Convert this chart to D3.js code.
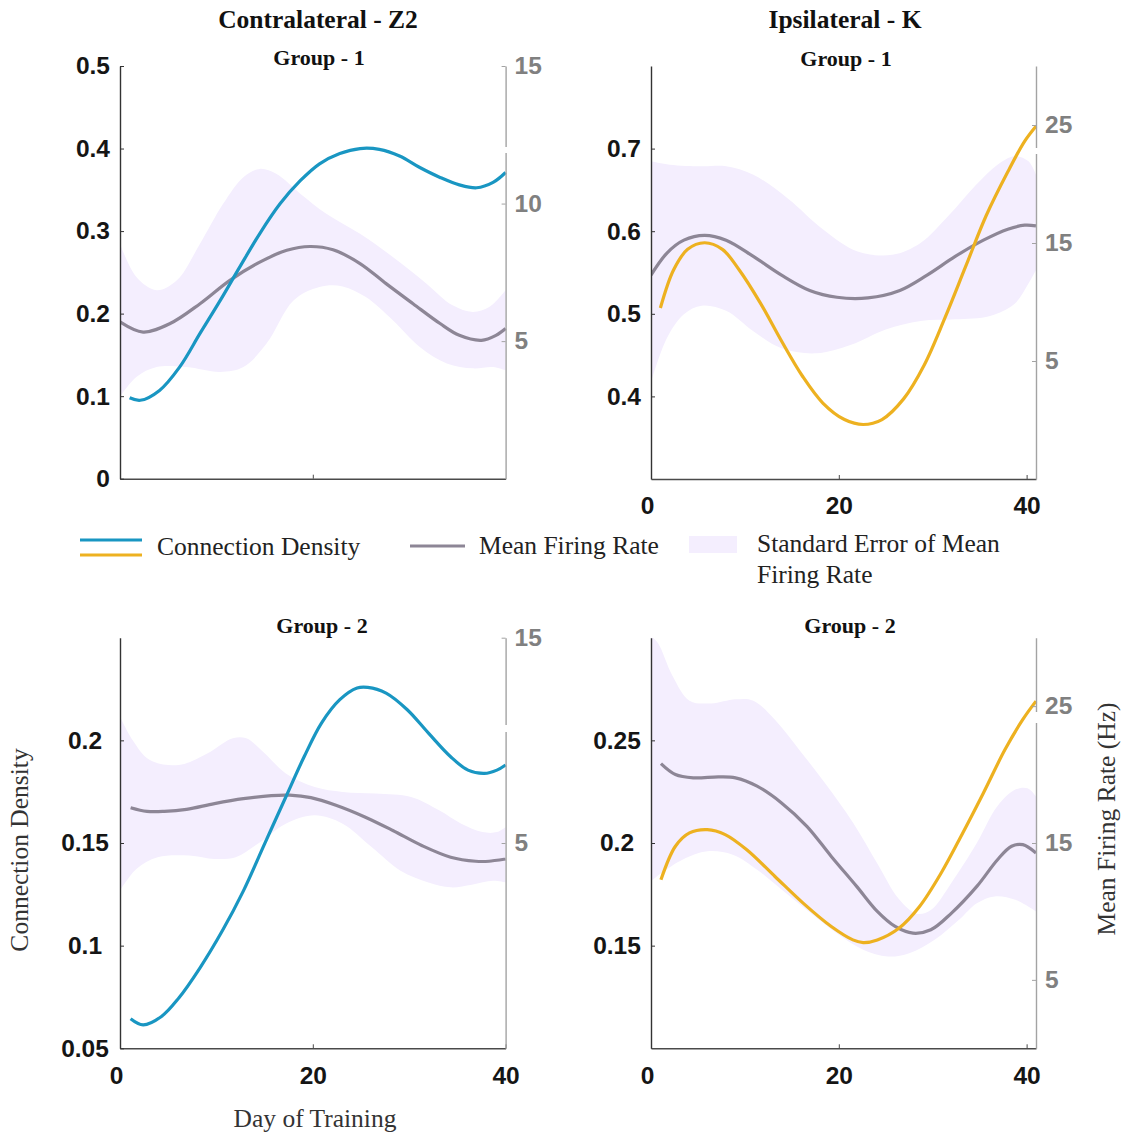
<!DOCTYPE html>
<html><head><meta charset="utf-8">
<script src="https://cdn.jsdelivr.net/npm/d3@7"></script>
<style>body{margin:0;background:#fff}</style>
</head><body>
<svg id="chart" width="1124" height="1135"></svg>
<script>
// ---------------- DATA ----------------
// Top-left: Contralateral - Z2, Group 1
const tlDensityDays = [1, 2.1, 4.1, 6.2, 8.3, 10.4, 12.4, 14.5, 16.6, 18.7, 20.7, 22.8, 24.9, 26.9, 29.0, 31.1, 33.2, 35.2, 37.0, 38.7, 40];
const tlDensity     = [0.098, 0.095, 0.107, 0.1355, 0.176, 0.216, 0.256, 0.297, 0.333, 0.361, 0.3815, 0.394, 0.400, 0.399, 0.391, 0.377, 0.365, 0.356, 0.3525, 0.359, 0.371];
const tlRateDays = [0, 2.4, 5.2, 8.3, 11.4, 14.5, 17.3, 19.7, 22.1, 24.9, 27.6, 30.4, 33.2, 35.2, 37.5, 39.0, 40];
const tlRate     = [5.70, 5.33, 5.64, 6.36, 7.21, 7.87, 8.30, 8.44, 8.32, 7.82, 7.09, 6.36, 5.64, 5.21, 5.03, 5.21, 5.46];
const tlSemUpperDays = [0, 1.7, 3.8, 5.9, 8.3, 10.7, 12.8, 14.5, 16.2, 18.7, 21.4, 24.9, 28.3, 31.8, 34.5, 36.6, 38.3, 40];
const tlSemUpper     = [8.54, 7.33, 6.85, 7.21, 8.54, 9.99, 10.96, 11.26, 11.08, 10.36, 9.63, 8.90, 8.06, 7.09, 6.30, 6.06, 6.24, 6.85];
const tlSemLowerDays = [0, 1.7, 3.8, 6.9, 10.4, 12.8, 15.2, 18.0, 20.7, 23.1, 25.5, 28.3, 31.1, 33.9, 36.6, 38.7, 40];
const tlSemLower     = [2.98, 3.70, 4.06, 4.06, 3.88, 4.06, 4.91, 6.48, 6.97, 6.99, 6.60, 5.76, 4.79, 4.19, 4.01, 4.06, 3.94];

// Top-right: Ipsilateral - K, Group 1
const trDensityDays = [1.0, 2.4, 3.9, 5.7, 7.6, 9.4, 11.7, 13.9, 16.1, 18.3, 20.6, 22.6, 24.6, 26.9, 29.1, 31.3, 33.5, 35.7, 38.0, 39.8, 41];
const trDensity     = [0.507, 0.553, 0.578, 0.586, 0.578, 0.553, 0.512, 0.467, 0.425, 0.392, 0.372, 0.366, 0.372, 0.397, 0.438, 0.495, 0.557, 0.619, 0.672, 0.709, 0.727];
const trRateDays = [0, 1.7, 3.5, 5.7, 8.0, 10.9, 13.9, 16.9, 19.8, 23.1, 26.5, 29.4, 32.4, 35.4, 38.0, 39.8, 41];
const trRate     = [12.28, 14.15, 15.24, 15.65, 15.24, 13.86, 12.28, 10.98, 10.40, 10.35, 10.98, 12.28, 13.86, 15.24, 16.17, 16.51, 16.45];
const trSemUpperDays = [0, 2.0, 5.4, 8.0, 10.9, 14.6, 18.3, 22.0, 25.7, 28.7, 31.7, 34.6, 36.9, 38.7, 40.2, 41];
const trSemUpper     = [21.93, 21.64, 21.5, 21.5, 20.78, 18.76, 16.17, 14.29, 14.0, 15.0, 17.32, 19.91, 21.64, 22.36, 21.93, 20.78];
const trSemLowerDays = [0, 1.7, 3.5, 5.4, 8.0, 10.9, 13.9, 17.6, 21.3, 25.0, 28.7, 32.4, 36.1, 38.7, 40.2, 41];
const trSemLower     = [3.2, 6.94, 8.96, 9.68, 9.25, 7.52, 6.08, 5.65, 6.37, 7.67, 8.39, 8.53, 8.82, 9.83, 11.56, 12.71];

// Bottom-left: Contralateral - Z2, Group 2
const blDensityDays = [1.1, 2.4, 4.3, 6.1, 8.3, 10.6, 12.8, 15.0, 17.2, 19.1, 20.9, 22.8, 24.6, 25.7, 27.6, 29.8, 32.0, 34.3, 36.1, 37.8, 39.1, 40];
const blDensity     = [0.0644, 0.0614, 0.0655, 0.0745, 0.0892, 0.1071, 0.1267, 0.1496, 0.1724, 0.192, 0.2084, 0.2198, 0.2255, 0.2258, 0.223, 0.2149, 0.2035, 0.192, 0.1855, 0.1839, 0.1855, 0.188];
const blRateDays = [1.1, 2.8, 4.6, 6.9, 9.8, 12.8, 15.7, 17.6, 19.8, 22.4, 25.4, 28.3, 31.3, 34.3, 36.9, 38.3, 40];
const blRate     = [6.72, 6.54, 6.54, 6.64, 6.92, 7.16, 7.31, 7.33, 7.21, 6.84, 6.27, 5.61, 4.88, 4.31, 4.11, 4.11, 4.22];
const blSemUpperDays = [0, 1.3, 3.1, 6.1, 9.1, 11.7, 13.1, 15.0, 17.2, 20.2, 23.1, 26.5, 30.2, 33.1, 35.4, 37.6, 39.1, 40];
const blSemUpper     = [11.16, 10.02, 9.04, 8.80, 9.37, 10.10, 10.10, 9.37, 8.39, 7.73, 7.49, 7.41, 7.24, 6.59, 5.94, 5.53, 5.53, 5.78];
const blSemLowerDays = [0, 1.7, 3.9, 7.2, 9.8, 12.0, 14.3, 17.2, 20.2, 23.1, 26.1, 29.1, 32.0, 34.3, 36.5, 38.7, 40];
const blSemLower     = [2.67, 3.73, 4.31, 4.39, 4.22, 4.31, 4.96, 5.94, 6.35, 5.94, 4.80, 3.65, 3.08, 2.84, 2.97, 3.16, 3.08];

// Bottom-right: Ipsilateral - K, Group 2
const brDensityDays = [1.06, 2.6, 4.1, 6.0, 7.9, 10.2, 13.2, 16.2, 19.2, 21.5, 22.6, 24.1, 26.4, 28.6, 30.9, 33.2, 35.4, 37.7, 39.6, 41];
const brDensity     = [0.1821, 0.1984, 0.2049, 0.2065, 0.2041, 0.1967, 0.1837, 0.1707, 0.1593, 0.1528, 0.1515, 0.1528, 0.1585, 0.1691, 0.1854, 0.2049, 0.2244, 0.2455, 0.2602, 0.2691];
const brRateDays = [1.06, 2.6, 4.5, 7.2, 9.0, 11.3, 13.9, 16.6, 19.2, 21.9, 24.1, 26.0, 27.9, 29.8, 32.0, 34.7, 36.9, 38.4, 39.6, 41];
const brRate     = [20.8, 20.0, 19.76, 19.83, 19.76, 19.15, 17.93, 16.22, 14.02, 11.83, 10.0, 8.90, 8.41, 8.66, 9.88, 11.83, 13.78, 14.76, 14.88, 14.27];
const brSemUpperDays = [0, 0.75, 2.3, 4.1, 6.4, 9.0, 10.9, 13.2, 15.8, 18.5, 21.5, 24.1, 26.4, 28.3, 29.8, 32.0, 34.7, 36.9, 38.8, 40.1, 41];
const brSemUpper     = [30.1, 29.6, 27.2, 25.4, 25.2, 25.5, 25.4, 24.0, 21.8, 19.4, 16.5, 13.5, 10.9, 9.83, 10.1, 12.1, 15.0, 17.7, 18.9, 19.0, 18.4];
const brSemLowerDays = [0, 1.1, 3.4, 6.0, 8.7, 11.3, 13.9, 17.0, 20.0, 22.6, 25.2, 27.5, 30.2, 32.8, 34.7, 36.6, 38.8, 41];
const brSemLower     = [12.2, 12.8, 13.8, 14.4, 14.15, 13.05, 11.6, 9.88, 8.29, 7.2, 6.71, 6.95, 7.93, 9.39, 10.6, 11.1, 10.85, 10.0];

// Axis ticks
const tlLeftTicks = [0, 0.1, 0.2, 0.3, 0.4, 0.5];
const tlRightTicks = [5, 10, 15];
const trLeftTicks = [0.4, 0.5, 0.6, 0.7];
const trRightTicks = [5, 15, 25];
const blLeftTicks = [0.05, 0.1, 0.15, 0.2];
const blRightTicks = [5, 15];
const brLeftTicks = [0.15, 0.2, 0.25];
const brRightTicks = [5, 15, 25];
const dayTicks = [0, 20, 40];

const columnTitles = ["Contralateral - Z2", "Ipsilateral - K"];
const groupTitles = ["Group - 1", "Group - 1", "Group - 2", "Group - 2"];
const legendLabels = ["Connection Density", "Mean Firing Rate", "Standard Error of Mean", "Firing Rate"];

// ---------------- STYLE ----------------
const BLUE = "#1996c2", GOLD = "#edb120", GRAY = "#8d8696", BAND = "#f4eefe";
const SERIF = "'Liberation Serif','Times New Roman',serif";
const SANS = "'Liberation Sans',Arial,sans-serif";
const TICK_FS = 24.5, SERIF_FS = 25.5;
const zip = (a, b) => a.map((d, i) => [d, b[i]]);

const svg = d3.select("#chart");

const panels = [
  { left: 120, right: 505.6, top: 66, bottom: 478.7, xDom: [0, 40], yLDom: [0, 0.5], yRDom: [0, 15],
    density: zip(tlDensityDays, tlDensity), rate: zip(tlRateDays, tlRate),
    up: zip(tlSemUpperDays, tlSemUpper), lo: zip(tlSemLowerDays, tlSemLower),
    color: BLUE, lt: tlLeftTicks, rt: tlRightTicks, xLabels: false, xt: [20], leftMid: false, leftPad: 10,
    title: groupTitles[0], titleX: 319, titleY: 65, gap: [147, 153] },
  { left: 651, right: 1036, top: 66, bottom: 479, xDom: [0, 41], yLDom: [0.3, 0.8], yRDom: [-5, 30],
    density: zip(trDensityDays, trDensity), rate: zip(trRateDays, trRate),
    up: zip(trSemUpperDays, trSemUpper), lo: zip(trSemLowerDays, trSemLower),
    color: GOLD, lt: trLeftTicks, rt: trRightTicks, xLabels: true, xt: dayTicks, leftMid: false, leftPad: 10,
    title: groupTitles[1], titleX: 846, titleY: 66, gap: [148, 154] },
  { left: 120, right: 505.6, top: 637.7, bottom: 1048.3, xDom: [0, 40], yLDom: [0.05, 0.25], yRDom: [-5, 15],
    density: zip(blDensityDays, blDensity), rate: zip(blRateDays, blRate),
    up: zip(blSemUpperDays, blSemUpper), lo: zip(blSemLowerDays, blSemLower),
    color: BLUE, lt: blLeftTicks, rt: blRightTicks, xLabels: true, xt: dayTicks, leftMid: true, leftPad: 35,
    title: groupTitles[2], titleX: 322, titleY: 633, gap: [725, 732] },
  { left: 651, right: 1036, top: 637.7, bottom: 1048.3, xDom: [0, 41], yLDom: [0.1, 0.3], yRDom: [0, 30],
    density: zip(brDensityDays, brDensity), rate: zip(brRateDays, brRate),
    up: zip(brSemUpperDays, brSemUpper), lo: zip(brSemLowerDays, brSemLower),
    color: GOLD, lt: brLeftTicks, rt: brRightTicks, xLabels: true, xt: dayTicks, leftMid: true, leftPad: 34,
    title: groupTitles[3], titleX: 850, titleY: 633, gap: [712, 723] }
];

panels.forEach((p, i) => {
  const x = d3.scaleLinear().domain(p.xDom).range([p.left, p.right]);
  const yL = d3.scaleLinear().domain(p.yLDom).range([p.bottom, p.top]);
  const yR = d3.scaleLinear().domain(p.yRDom).range([p.bottom, p.top]);
  const g = svg.append("g");
  const cid = "clip" + i;
  svg.append("clipPath").attr("id", cid).append("rect")
    .attr("x", p.left).attr("y", p.top).attr("width", p.right - p.left + 2).attr("height", p.bottom - p.top);
  const plot = g.append("g").attr("clip-path", `url(#${cid})`);

  const curve = d3.curveCatmullRom.alpha(0.5);
  const lineR = d3.line().x(d => x(d[0])).y(d => yR(d[1])).curve(curve);
  const lineL = d3.line().x(d => x(d[0])).y(d => yL(d[1])).curve(curve);

  const bandPath = lineR(p.up) + "L" + lineR(p.lo.slice().reverse()).slice(1) + "Z";
  plot.append("path").attr("d", bandPath).attr("fill", BAND).attr("stroke", "none");
  plot.append("path").attr("d", lineR(p.rate)).attr("fill", "none").attr("stroke", GRAY).attr("stroke-width", 3.2);
  plot.append("path").attr("d", lineL(p.density)).attr("fill", "none").attr("stroke", p.color).attr("stroke-width", 3.2);

  // axes
  const ax = d3.axisBottom(x).tickValues(p.xt).tickSize(-4).tickSizeOuter(0).tickPadding(18)
    .tickFormat(p.xLabels ? d3.format("d") : () => "");
  const gx = g.append("g").attr("transform", `translate(0,${p.bottom})`).call(ax);
  gx.select(".domain").attr("stroke", "#4a4a4a").attr("stroke-width", 1.4);
  gx.selectAll(".tick line").attr("stroke", "#4a4a4a");
  gx.selectAll("text").attr("font-family", SANS).attr("font-weight", "bold").attr("font-size", TICK_FS).attr("fill", "#151515")
    .attr("dx", d => d === 0 ? -4 : 0);

  const al = d3.axisLeft(yL).tickValues(p.lt).tickSize(-4).tickSizeOuter(0).tickPadding(p.leftPad).tickFormat(d => String(d));
  const gl = g.append("g").attr("transform", `translate(${p.left},0)`).call(al);
  gl.select(".domain").attr("stroke", "#333").attr("stroke-width", 1.4);
  gl.selectAll(".tick line").attr("stroke", "#333");
  gl.selectAll("text").attr("font-family", SANS).attr("font-weight", "bold").attr("font-size", TICK_FS).attr("fill", "#151515");
  if (p.leftMid) gl.selectAll("text").attr("text-anchor", "middle");

  const ar = d3.axisRight(yR).tickValues(p.rt).tickSize(-4).tickSizeOuter(0).tickPadding(9).tickFormat(d => String(d));
  const gr = g.append("g").attr("transform", `translate(${p.right},0)`).call(ar);
  gr.select(".domain").attr("stroke", "#a3a3a3").attr("stroke-width", 1.4);
  gr.selectAll(".tick line").attr("stroke", "#a3a3a3");
  gr.selectAll("text").attr("font-family", SANS).attr("font-weight", "bold").attr("font-size", TICK_FS).attr("fill", "#808080");
  // small break in the right axis (as in the source figure)
  g.append("rect").attr("x", p.right - 2).attr("y", p.gap[0]).attr("width", 4).attr("height", p.gap[1] - p.gap[0]).attr("fill", "#fff");

  g.append("text").attr("x", p.titleX).attr("y", p.titleY).attr("text-anchor", "middle")
    .attr("font-family", SERIF).attr("font-weight", "bold").attr("font-size", 22).attr("fill", "#111").text(p.title);
});

// Column titles
svg.append("text").attr("x", 318).attr("y", 28).attr("text-anchor", "middle")
  .attr("font-family", SERIF).attr("font-weight", "bold").attr("font-size", SERIF_FS).attr("fill", "#111").text(columnTitles[0]);
svg.append("text").attr("x", 845).attr("y", 28).attr("text-anchor", "middle")
  .attr("font-family", SERIF).attr("font-weight", "bold").attr("font-size", SERIF_FS).attr("fill", "#111").text(columnTitles[1]);

// Axis titles
svg.append("text").attr("transform", "translate(28,850) rotate(-90)").attr("text-anchor", "middle")
  .attr("font-family", SERIF).attr("font-size", SERIF_FS).attr("fill", "#333").text("Connection Density");
svg.append("text").attr("x", 315).attr("y", 1127).attr("text-anchor", "middle")
  .attr("font-family", SERIF).attr("font-size", SERIF_FS).attr("fill", "#333").text("Day of Training");
svg.append("text").attr("transform", "translate(1115,819) rotate(-90)").attr("text-anchor", "middle")
  .attr("font-family", SERIF).attr("font-size", SERIF_FS).attr("fill", "#333").text("Mean Firing Rate (Hz)");

// Legend
const lg = svg.append("g");
lg.append("line").attr("x1", 80).attr("x2", 142).attr("y1", 540).attr("y2", 540).attr("stroke", BLUE).attr("stroke-width", 3);
lg.append("line").attr("x1", 80).attr("x2", 142).attr("y1", 555).attr("y2", 555).attr("stroke", GOLD).attr("stroke-width", 3);
lg.append("text").attr("x", 157).attr("y", 555).attr("font-family", SERIF).attr("font-size", SERIF_FS).attr("fill", "#222").text(legendLabels[0]);
lg.append("line").attr("x1", 410).attr("x2", 465).attr("y1", 546).attr("y2", 546).attr("stroke", GRAY).attr("stroke-width", 3);
lg.append("text").attr("x", 479).attr("y", 554).attr("font-family", SERIF).attr("font-size", SERIF_FS).attr("fill", "#222").text(legendLabels[1]);
lg.append("rect").attr("x", 689).attr("y", 536).attr("width", 48).attr("height", 17).attr("fill", BAND);
lg.append("text").attr("x", 757).attr("y", 552).attr("font-family", SERIF).attr("font-size", SERIF_FS).attr("fill", "#222").text(legendLabels[2]);
lg.append("text").attr("x", 757).attr("y", 583).attr("font-family", SERIF).attr("font-size", SERIF_FS).attr("fill", "#222").text(legendLabels[3]);
</script>
</body></html>
